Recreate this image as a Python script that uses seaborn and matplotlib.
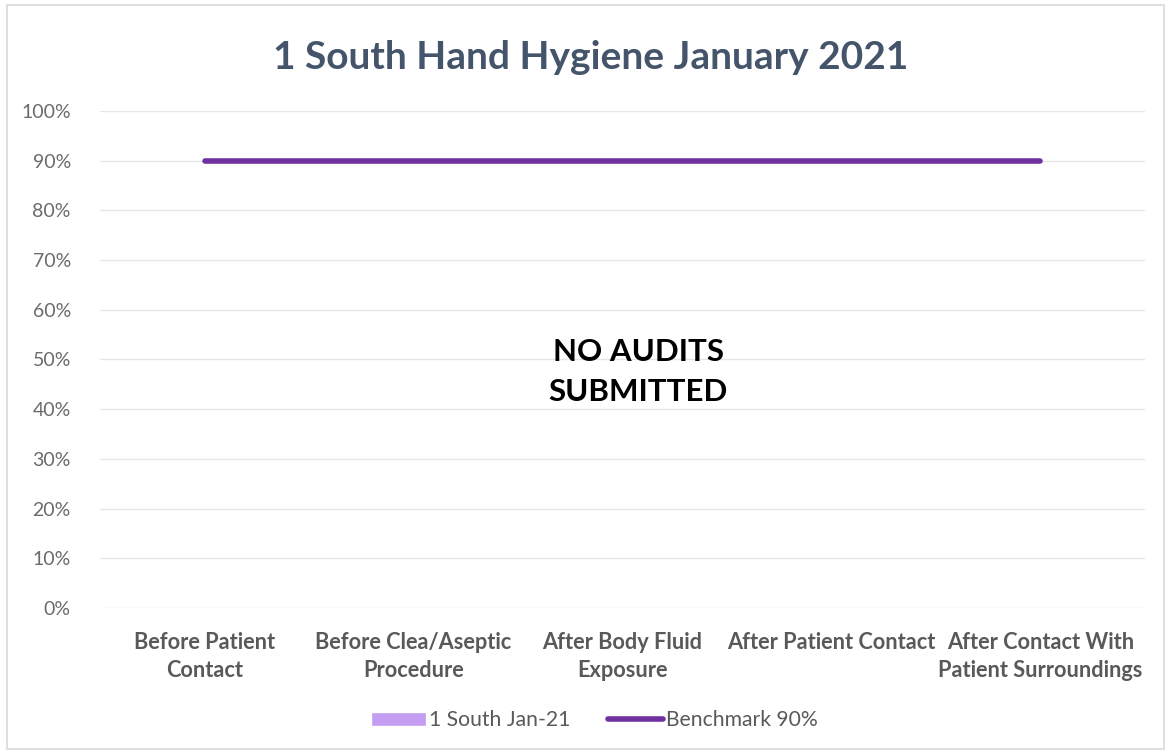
import numpy as np
import pandas as pd
import matplotlib
matplotlib.use("Agg")
import matplotlib.pyplot as plt
from matplotlib.patches import Patch, Rectangle
from matplotlib.lines import Line2D
from matplotlib.ticker import PercentFormatter
import seaborn as sns

categories = ["Before Patient\nContact", "Before Clea/Aseptic\nProcedure", "After Body Fluid\nExposure",
              "After Patient Contact", "After Contact With\nPatient Surroundings"]
unit_values = [np.nan, np.nan, np.nan, np.nan, np.nan]   # no audits submitted
benchmark = [0.9, 0.9, 0.9, 0.9, 0.9]
y_ticks = [0, 0.1, 0.2, 0.3, 0.4, 0.5, 0.6, 0.7, 0.8, 0.9, 1.0]

sns.set_theme(style="white")
plt.rcParams['font.family'] = ['Lato', 'DejaVu Sans']

bar_color = "#C49CF2"
line_color = "#7030A0"
text_gray = "#595959"

df = pd.DataFrame({"cat": categories, "value": unit_values})
bench_df = pd.DataFrame({"pos": np.arange(len(categories)), "bench": benchmark})

fig = plt.figure(figsize=(11.7, 7.52), dpi=100)
ax = fig.add_axes([0.0855, 0.1915, 0.893, 0.661])

sns.barplot(data=df, x="cat", y="value", order=categories, color=bar_color, ax=ax, errorbar=None)
sns.lineplot(data=bench_df, x="pos", y="bench", color=line_color, linewidth=4, ax=ax,
             solid_capstyle="round")

ax.set_xlim(-0.5, len(categories) - 0.5)
ax.set_ylim(0, 1.0)
ax.set_yticks(y_ticks)
ax.yaxis.set_major_formatter(PercentFormatter(1.0, decimals=0))
ax.set_xticks(range(len(categories)))
ax.set_xticklabels(categories, fontsize=15.7, color=text_gray, fontweight="bold", linespacing=1.45)
ax.tick_params(axis="y", labelsize=14, labelcolor="#6B6B6B", length=0, pad=21)
ax.tick_params(axis="x", length=0, pad=17)
ax.set_xlabel("")
ax.set_ylabel("")
ax.grid(axis="y", color="#E6E6E6", linewidth=1)
for s in ax.spines.values():
    s.set_visible(False)
if ax.get_legend() is not None:
    ax.get_legend().remove()

ax.text(0.515, 0.475, "NO AUDITS\nSUBMITTED", transform=ax.transAxes, ha="center", va="center",
        fontsize=22.5, fontweight="bold", color="black", linespacing=1.5)

fig.text(0.505, 0.924, "1 South Hand Hygiene January 2021", ha="center", va="center",
         fontsize=28, fontweight="bold", color="#44546A")

handles = [Patch(facecolor=bar_color, label="1 South Jan-21"),
           Line2D([0], [0], color=line_color, linewidth=4, label="Benchmark 90%")]
leg = fig.legend(handles=handles, loc="center", bbox_to_anchor=(0.508, 0.042), ncol=2, frameon=False,
                 fontsize=15.2, handlelength=2.6, handletextpad=0.15, columnspacing=1.8)
for t in leg.get_texts():
    t.set_color(text_gray)

fig.patches.append(Rectangle((0.006, 0.004), 0.989, 0.99, transform=fig.transFigure,
                             fill=False, edgecolor="#D9D9D9", linewidth=1.2))

fig.savefig("out.png", dpi=100, facecolor="white")
